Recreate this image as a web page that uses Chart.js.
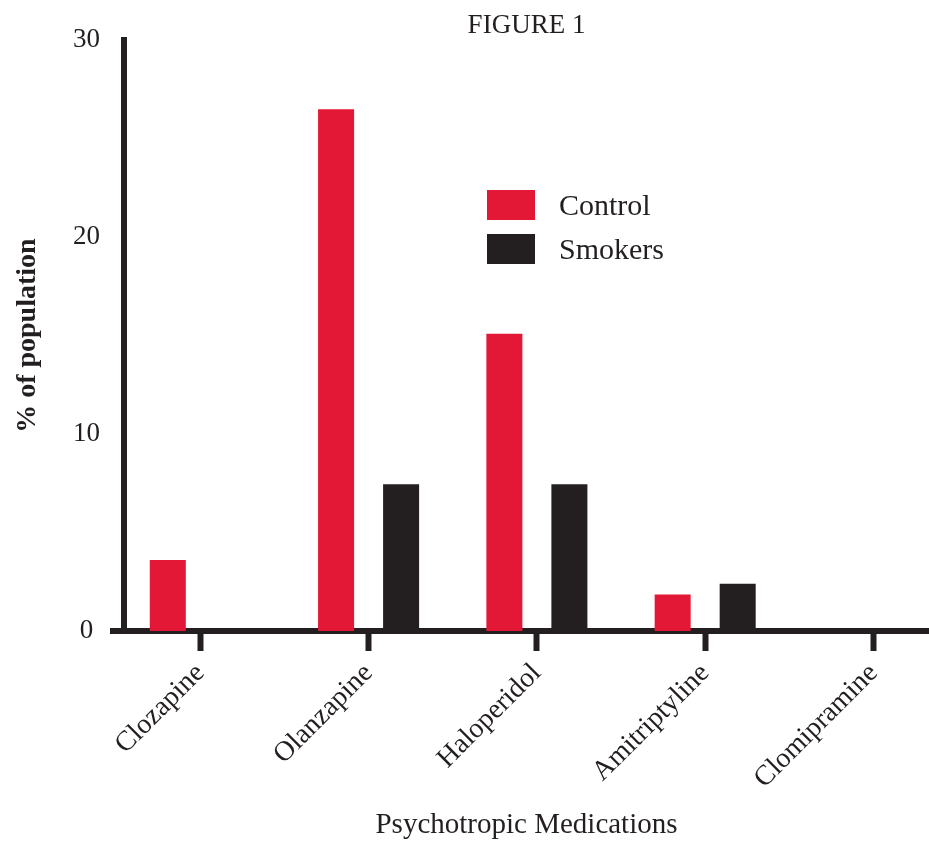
<!DOCTYPE html>
<html lang="en">
<head>
  <meta charset="UTF-8" />
  <title>Figure 1</title>
  <script src="https://cdn.jsdelivr.net/npm/chart.js"></script>
  <style>
    body {
      margin: 0;
      background: #ffffff;
      overflow: hidden;
    }
    #wrap {
      position: relative;
      width: 929px;
      height: 843px;
    }
    #legend {
      position: absolute;
      left: 487px;
      top: 190px;
      font-family: "Liberation Serif", "DejaVu Serif", serif;
      font-size: 30px;
      color: #231f20;
    }
    .item {
      display: flex;
      align-items: center;
      height: 30px;
      margin-bottom: 14px;
    }
    .box {
      width: 48px;
      height: 30px;
      margin-right: 24px;
    }
  </style>
</head>
<body>
  <div id="wrap">
    <canvas id="chart" width="929" height="843"></canvas>
    <div id="legend"></div>
  </div>

  <script>
    const medications = ["Clozapine", "Olanzapine", "Haloperidol", "Amitriptyline", "Clomipramine"];
    const control = [3.6, 26.5, 15.1, 1.85, 0];
    const smokers = [0, 7.45, 7.45, 2.4, 0];
    const yTicks = [0, 10, 20, 30];

    const red = "#e31837";
    const ink = "#231f20";
    const serif = "'Liberation Serif', 'DejaVu Serif', serif";

    // short stub of the x axis line sticking out left of the y axis
    const axisStub = {
      id: "axisStub",
      afterDraw(chart) {
        const ctx = chart.ctx;
        const y = chart.scales.y.getPixelForValue(0);
        ctx.save();
        ctx.fillStyle = ink;
        ctx.fillRect(chart.chartArea.left - 14, y - 3, 14, 6);
        ctx.restore();
      }
    };

    const chart = new Chart(document.getElementById("chart"), {
      type: "bar",
      data: {
        datasets: [
          {
            label: "Control",
            data: control.map((v, i) => ({ x: i, y: v })),
            backgroundColor: red
          },
          {
            label: "Smokers",
            data: smokers.map((v, i) => ({ x: i, y: v })),
            backgroundColor: ink
          }
        ]
      },
      options: {
        responsive: false,
        animation: false,
        layout: { padding: 0 },
        categoryPercentage: 0.7727,
        barPercentage: 0.554,
        plugins: {
          legend: { display: false },
          tooltip: { enabled: false },
          title: {
            display: true,
            text: "FIGURE 1",
            fullSize: false,
            color: ink,
            font: { family: serif, size: 27, weight: "normal", lineHeight: 1 },
            padding: { top: 9, bottom: 1 }
          }
        },
        scales: {
          x: {
            type: "linear",
            min: -0.4534,
            max: 4.33,
            offset: false,
            z: 1,
            afterBuildTicks: (scale) => {
              scale.ticks = medications.map((_, i) => ({ value: i }));
            },
            afterFit: (scale) => { scale.height = 212; },
            ticks: {
              callback: (v) => medications[v],
              minRotation: 45,
              maxRotation: 45,
              color: ink,
              padding: 6,
              font: { family: serif, size: 28 }
            },
            grid: {
              offset: false,
              drawOnChartArea: false,
              drawTicks: true,
              tickLength: 20,
              tickWidth: 6,
              tickColor: ink
            },
            border: { display: true, width: 6, color: ink },
            title: {
              display: true,
              text: "Psychotropic Medications",
              color: ink,
              font: { family: serif, size: 29 },
              padding: { top: 0, bottom: 0 }
            }
          },
          y: {
            min: 0,
            max: 30,
            afterBuildTicks: (scale) => {
              scale.ticks = yTicks.map(v => ({ value: v }));
            },
            afterFit: (scale) => { scale.width = 124; },
            ticks: {
              color: ink,
              crossAlign: "center",
              padding: 24,
              font: { family: serif, size: 27 }
            },
            grid: { display: false, drawTicks: false },
            border: { display: true, width: 6, color: ink },
            title: {
              display: true,
              text: "% of population",
              color: ink,
              font: { family: serif, size: 28, weight: "bold" },
              padding: { top: 11, bottom: 0 }
            }
          }
        }
      },
      plugins: [axisStub]
    });

    // legend built from the chart's datasets
    const legend = document.getElementById("legend");
    chart.data.datasets.forEach(ds => {
      const item = document.createElement("div");
      item.className = "item";
      const box = document.createElement("span");
      box.className = "box";
      box.style.background = ds.backgroundColor;
      const txt = document.createElement("span");
      txt.textContent = ds.label;
      item.appendChild(box);
      item.appendChild(txt);
      legend.appendChild(item);
    });
  </script>
</body>
</html>
